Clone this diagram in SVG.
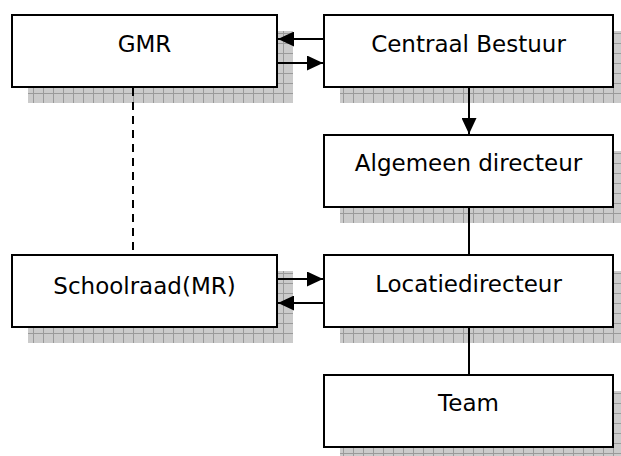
<svg xmlns="http://www.w3.org/2000/svg" width="621" height="456" viewBox="0 0 621 456">
<style>
.box{fill:#ffffff;stroke:#000000;stroke-width:2}
.shadow{fill:url(#grid)}
.lbl{font-family:"DejaVu Sans",Verdana,sans-serif;font-size:23px;fill:#000000;text-anchor:middle}
.ln{stroke:#000000;stroke-width:2;fill:none}
.dash{stroke-dasharray:8 6}
</style>
<defs>
<pattern id="grid" patternUnits="userSpaceOnUse" x="3" y="3" width="10" height="10">
<rect width="10" height="10" fill="#cbcbcb"/>
<rect x="0" y="0" width="10" height="1" fill="#9a9a9a"/>
<rect x="0" y="0" width="1" height="10" fill="#9a9a9a"/>
</pattern>
<marker id="ah" markerUnits="userSpaceOnUse" markerWidth="17" markerHeight="15" refX="16" refY="7.5" orient="auto">
<path d="M0,0 L16,7.5 L0,15 Z" fill="#000000"/>
</marker>
</defs>
<g id="gmr">
<rect class="shadow" x="28" y="31" width="265" height="72"/>
<rect class="box" x="12" y="15" width="265" height="72"/>
<text class="lbl" x="144.5" y="52">GMR</text>
</g>
<g id="centraal-bestuur">
<rect class="shadow" x="340" y="31" width="289" height="72"/>
<rect class="box" x="324" y="15" width="289" height="72"/>
<text class="lbl" x="468.5" y="52">Centraal Bestuur</text>
</g>
<g id="algemeen-directeur">
<rect class="shadow" x="340" y="151" width="289" height="72"/>
<rect class="box" x="324" y="135" width="289" height="72"/>
<text class="lbl" x="468.5" y="171">Algemeen directeur</text>
</g>
<g id="schoolraad">
<rect class="shadow" x="28" y="271" width="265" height="72"/>
<rect class="box" x="12" y="255" width="265" height="72"/>
<text class="lbl" x="144.5" y="294">Schoolraad(MR)</text>
</g>
<g id="locatiedirecteur">
<rect class="shadow" x="340" y="271" width="289" height="72"/>
<rect class="box" x="324" y="255" width="289" height="72"/>
<text class="lbl" x="468.5" y="292">Locatiedirecteur</text>
</g>
<g id="team">
<rect class="shadow" x="340" y="391" width="289" height="72"/>
<rect class="box" x="324" y="375" width="289" height="72"/>
<text class="lbl" x="468.5" y="411">Team</text>
</g>
<g id="connectors">
<line class="ln" x1="324" y1="39" x2="278" y2="39" marker-end="url(#ah)"/>
<line class="ln" x1="277" y1="63" x2="323" y2="63" marker-end="url(#ah)"/>
<line class="ln" x1="469" y1="88" x2="469" y2="134" marker-end="url(#ah)"/>
<line class="ln" x1="469" y1="208" x2="469" y2="254"/>
<line class="ln" x1="469" y1="328" x2="469" y2="374"/>
<line class="ln" x1="277" y1="279" x2="323" y2="279" marker-end="url(#ah)"/>
<line class="ln" x1="324" y1="303" x2="278" y2="303" marker-end="url(#ah)"/>
<line class="ln dash" x1="133" y1="88" x2="133" y2="254"/>
</g>
</svg>
